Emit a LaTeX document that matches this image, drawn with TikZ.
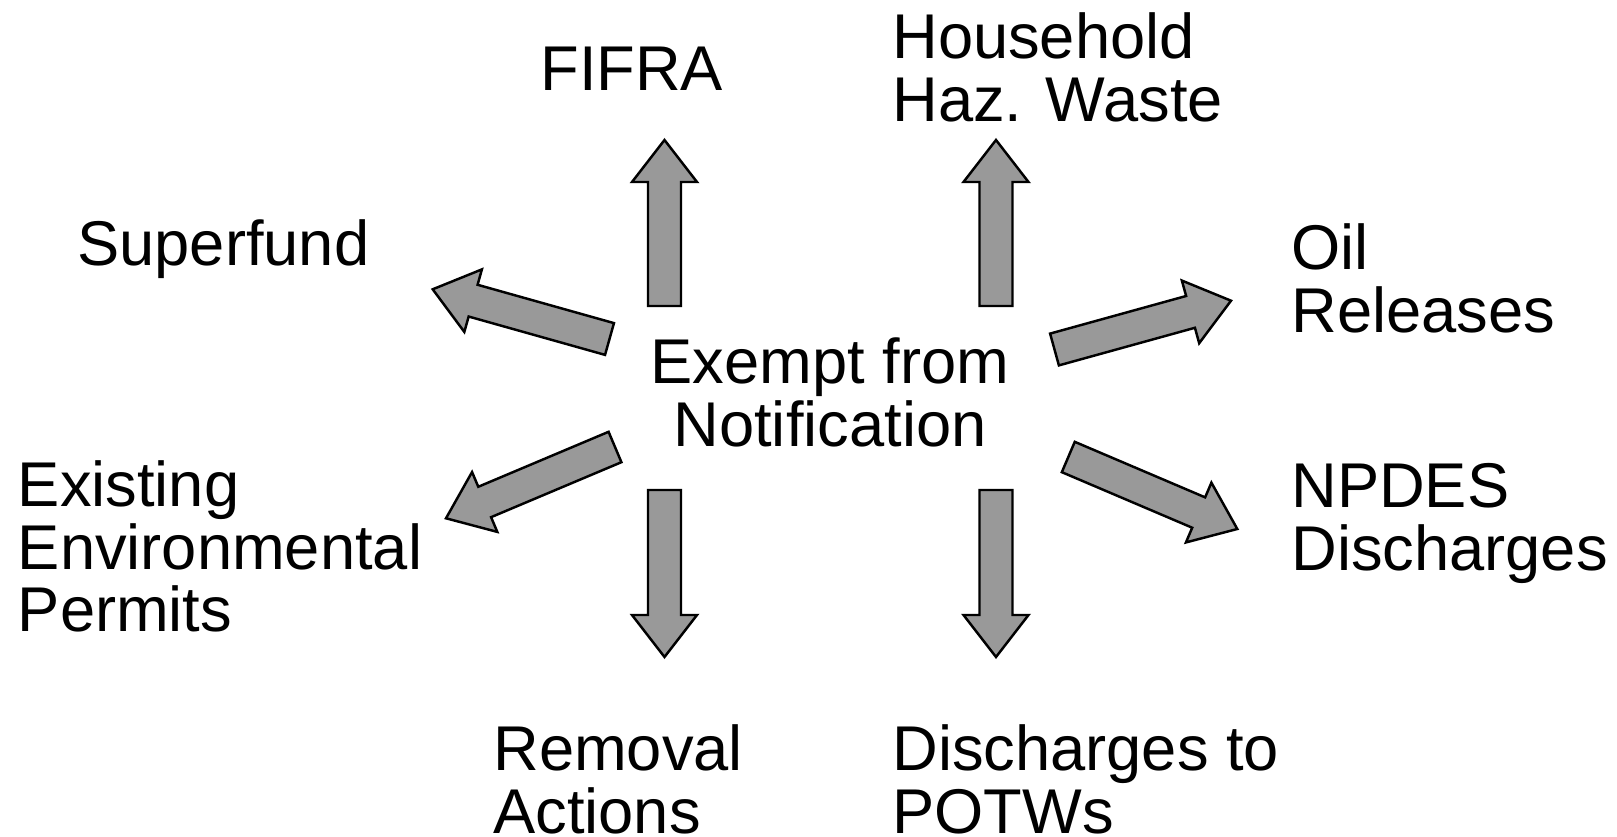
\documentclass[tikz,border=0pt]{standalone}
\usepackage{fontspec}
\setmainfont{Liberation Sans}
\usetikzlibrary{calc}
\definecolor{arrowgray}{RGB}{153,153,153}
\tikzset{every node/.style={inner sep=0pt, font=\fontsize{36}{35.6}\selectfont},
  lbl/.style={anchor=base west, align=left},
  fat/.style={draw=black, fill=arrowgray, line width=1.4pt, line join=miter,
    to path={let \p1=(\tikztostart), \p2=(\tikztotarget),
      \p3=($(\tikztotarget)!0.84cm!(\tikztostart)$) in
      ($(\p1)!0.33cm!90:(\p2)$) -- ($(\p3)!0.33cm!90:(\p2)$) -- ($(\p3)!0.65cm!90:(\p2)$) -- (\p2)
      -- ($(\p3)!0.65cm!-90:(\p2)$) -- ($(\p3)!0.33cm!-90:(\p2)$) -- ($(\p1)!0.33cm!-90:(\p2)$) -- cycle}}}

\begin{document}
\begin{tikzpicture}[x=0.02cm,y=-0.02cm]
   \useasboundingbox (0,0) rectangle (1617,837);
   \node[align=center, anchor=base] (exempt) at (830,446.5) {Exempt from\\Notification};
   \node[lbl] (fifra) at (540,90.7) {FIFRA};
   \node[lbl] (household) at (892,121.3) {Household\\Haz. Waste};
   \node[lbl] (superfund) at (77,266) {Superfund};
   \node[lbl] (oil) at (1291,332.5) {Oil\\Releases};
   \node[lbl] (permits) at (17.5,632) {Existing\\Environmental\\Permits};
   \node[lbl] (npdes) at (1291,570.5) {NPDES\\Discharges};
   \node[lbl] (removal) at (493,833.5) {Removal\\Actions};
   \node[lbl] (potws) at (892,833.5) {Discharges to\\POTWs};
   \coordinate (fifra-s) at (664.5,306);  \coordinate (fifra-t) at (664.5,140);
   \coordinate (house-s) at (996,306);    \coordinate (house-t) at (996,140);
   \coordinate (remov-s) at (664.5,490);  \coordinate (remov-t) at (664.5,657);
   \coordinate (potws-s) at (996,490);    \coordinate (potws-t) at (996,657);
   \coordinate (super-s) at (609.5,339);  \coordinate (super-t) at (432.7,289.3);
   \coordinate (oil-s) at (1054.5,349.5); \coordinate (oil-t) at (1231,300.7);
   \coordinate (npdes-s) at (1068.3,457); \coordinate (npdes-t) at (1237.3,529);
   \coordinate (perm-s) at (615,447);     \coordinate (perm-t) at (446,518.3);
   \draw[fat] (fifra-s) to (fifra-t);
   \draw[fat] (house-s) to (house-t);
   \draw[fat] (remov-s) to (remov-t);
   \draw[fat] (potws-s) to (potws-t);
   \draw[fat] (super-s) to (super-t);
   \draw[fat] (oil-s) to (oil-t);
   \draw[fat] (npdes-s) to (npdes-t);
   \draw[fat] (perm-s) to (perm-t);
\end{tikzpicture}
\end{document}
